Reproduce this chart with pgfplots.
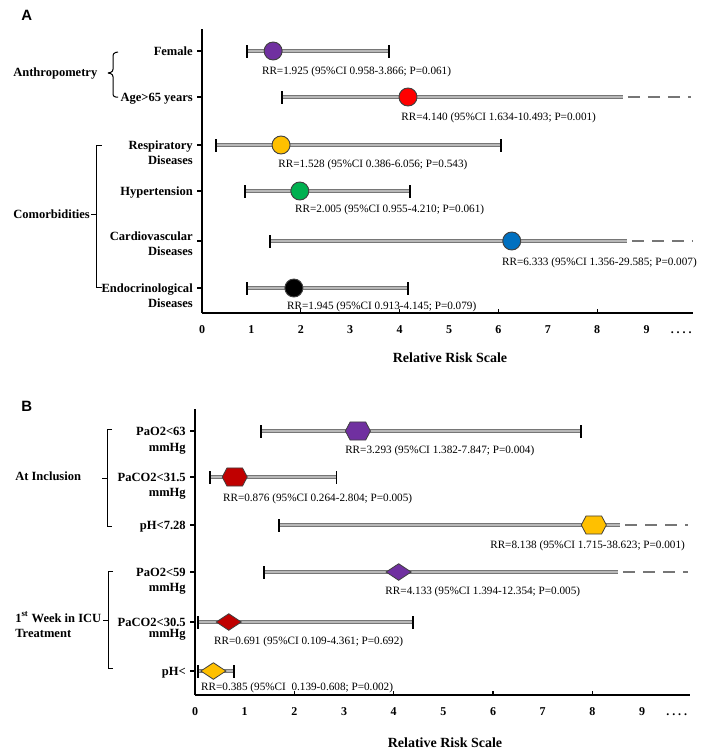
\documentclass[border=0pt]{standalone}
\usepackage{fontspec}
\setmainfont{Liberation Serif}
\newfontfamily\arialfont{Liberation Sans}
\usepackage{pgfplots}
\pgfplotsset{compat=1.18}

\definecolor{cpurple}{HTML}{7030A0}
\definecolor{cred}{HTML}{FF0000}
\definecolor{cdred}{HTML}{C00000}
\definecolor{cyellow}{HTML}{FFC000}
\definecolor{cgreen}{HTML}{00B050}
\definecolor{cblue}{HTML}{0070C0}
\definecolor{ciout}{HTML}{767676}
\definecolor{ciin}{HTML}{B8B8B8}
\definecolor{mkedge}{HTML}{404040}

\newcommand{\catfont}{\fontsize{9.4}{11}\selectfont\bfseries}
\newcommand{\rrfont}{\fontsize{8.4}{10}\selectfont}
\newcommand{\tickfont}{\fontsize{9}{11}\selectfont\bfseries}
\newcommand{\xlabfont}{\fontsize{10.5}{12}\selectfont\bfseries}

\pgfdeclareplotmark{hex}{%
  \pgfpathmoveto{\pgfqpoint{-\pgfplotmarksize}{0pt}}%
  \pgfpathlineto{\pgfqpoint{-0.62\pgfplotmarksize}{0.72\pgfplotmarksize}}%
  \pgfpathlineto{\pgfqpoint{0.62\pgfplotmarksize}{0.72\pgfplotmarksize}}%
  \pgfpathlineto{\pgfqpoint{\pgfplotmarksize}{0pt}}%
  \pgfpathlineto{\pgfqpoint{0.62\pgfplotmarksize}{-0.72\pgfplotmarksize}}%
  \pgfpathlineto{\pgfqpoint{-0.62\pgfplotmarksize}{-0.72\pgfplotmarksize}}%
  \pgfpathclose
  \pgfusepathqfillstroke}
\pgfdeclareplotmark{dia}{%
  \pgfpathmoveto{\pgfqpoint{-\pgfplotmarksize}{0pt}}%
  \pgfpathlineto{\pgfqpoint{0pt}{0.66\pgfplotmarksize}}%
  \pgfpathlineto{\pgfqpoint{\pgfplotmarksize}{0pt}}%
  \pgfpathlineto{\pgfqpoint{0pt}{-0.66\pgfplotmarksize}}%
  \pgfpathclose
  \pgfusepathqfillstroke}

\pgfplotsset{
  forest/.style={
    clip=false,
    scale only axis,
    y=0.75pt,
    axis x line=bottom, axis y line=left,
    axis line style={-, line width=1.3pt, black},
    tick align=outside,
    major tick length=3.5pt,
    y tick style={line width=0.9pt, black},
    x tick style={draw=none},
    xtick={0,1,2,3,4,5,6,7,8,9,9.7},
    xticklabels={0,1,2,3,4,5,6,7,8,9,{.\hspace{2.2pt}.\hspace{2.2pt}.\hspace{2.2pt}.}},
    xticklabel style={font=\tickfont, anchor=base, inner sep=0pt, yshift=-12pt},
    yticklabels={,,,,,},
    /pgf/number format/assume math mode=true,
  },
  ci/.style={draw=ciout, double=ciin, double distance=0.9pt, line width=1pt},
  cap/.style={black, line width=1.3pt},
  ext/.style={draw=ciout, line width=2.2pt, dash pattern=on 9pt off 6pt},
  circ/.style={only marks, mark=*, mark size=6.75pt, mark options={draw=mkedge, line width=0.7pt, fill=#1}},
  hexm/.style={only marks, mark=hex, mark size=9.4pt, mark options={draw=mkedge, line width=0.6pt, fill=#1}},
  diam/.style={only marks, mark=dia, mark size=9.4pt, mark options={draw=mkedge, line width=0.6pt, fill=#1}},
}
\tikzset{
  cat/.style={font=\catfont, anchor=base east, inner sep=0pt, xshift=-6.75pt},
  rr/.style={font=\rrfont, anchor=base west, inner sep=0pt},
}

\begin{document}
\begin{tikzpicture}
\path[use as bounding box] (0,0) rectangle (531pt,-564.75pt);

% ---------------- Panel A ----------------
\begin{axis}[forest, at={(151.5pt,-234.75pt)}, anchor=south west,
  x=37.05pt, xmin=0, xmax=9.94, ymin=-313, ymax=-29,
  ytick={-51,-97,-145,-191,-241,-288}]
% Female
\addplot[ci] coordinates {(0.91,-51) (3.79,-51)};
\addplot[cap] coordinates {(0.91,-57.5) (0.91,-44.5)};
\addplot[cap] coordinates {(3.79,-57.5) (3.79,-44.5)};
% Age>65
\addplot[ci] coordinates {(1.62,-97) (8.52,-97)};
\addplot[ext] coordinates {(8.62,-97) (9.90,-97)};
\addplot[cap] coordinates {(1.62,-103.5) (1.62,-90.5)};
% Respiratory
\addplot[ci] coordinates {(0.28,-145) (6.05,-145)};
\addplot[cap] coordinates {(0.28,-151.5) (0.28,-138.5)};
\addplot[cap] coordinates {(6.05,-151.5) (6.05,-138.5)};
% Hypertension
\addplot[ci] coordinates {(0.87,-191) (4.21,-191)};
\addplot[cap] coordinates {(0.87,-197.5) (0.87,-184.5)};
\addplot[cap] coordinates {(4.21,-197.5) (4.21,-184.5)};
% Cardiovascular
\addplot[ci] coordinates {(1.38,-241) (8.60,-241)};
\addplot[ext] coordinates {(8.70,-241) (9.92,-241)};
\addplot[cap] coordinates {(1.38,-247.5) (1.38,-234.5)};
% Endocrinological
\addplot[ci] coordinates {(0.91,-288) (4.17,-288)};
\addplot[cap] coordinates {(0.91,-294.5) (0.91,-281.5)};
\addplot[cap] coordinates {(4.17,-294.5) (4.17,-281.5)};
% points
\addplot[circ=cpurple] coordinates {(1.44,-51)};
\addplot[circ=cred] coordinates {(4.17,-97)};
\addplot[circ=cyellow] coordinates {(1.60,-145)};
\addplot[circ=cgreen] coordinates {(1.98,-191)};
\addplot[circ=cblue] coordinates {(6.27,-241)};
\addplot[circ=black] coordinates {(1.86,-288)};
% x ticks (even)
\pgfplotsinvokeforeach{2,4,6,8}{\draw[line width=0.9pt] (axis cs:#1,-313) -- (axis cs:#1,-308.5);}
% category labels
\node[cat] at (axis cs:0,-55) {Female};
\node[cat] at (axis cs:0,-101) {Age>65 years};
\node[cat] at (axis cs:0,-149) {Respiratory};
\node[cat] at (axis cs:0,-164) {Diseases};
\node[cat] at (axis cs:0,-195) {Hypertension};
\node[cat] at (axis cs:0,-240) {Cardiovascular};
\node[cat] at (axis cs:0,-255) {Diseases};
\node[cat] at (axis cs:0,-292) {Endocrinological};
\node[cat] at (axis cs:0,-307) {Diseases};
% RR labels
\node[rr] at (axis cs:1.21,-74) {RR=1.925 (95\%CI 0.958-3.866; P=0.061)};
\node[rr] at (axis cs:4.03,-120) {RR=4.140 (95\%CI 1.634-10.493; P=0.001)};
\node[rr] at (axis cs:1.54,-167) {RR=1.528 (95\%CI 0.386-6.056; P=0.543)};
\node[rr] at (axis cs:1.88,-212) {RR=2.005 (95\%CI 0.955-4.210; P=0.061)};
\node[rr] at (axis cs:6.07,-265) {RR=6.333 (95\%CI 1.356-29.585; P=0.007)};
\node[rr] at (axis cs:1.72,-309) {RR=1.945 (95\%CI 0.913-4.145; P=0.079)};
\end{axis}

% ---------------- Panel B ----------------
\begin{axis}[forest, at={(146.25pt,-521.25pt)}, anchor=south west,
  x=37.25pt, xmin=0, xmax=9.97, ymin=-695, ymax=-409,
  ytick={-431,-477,-525,-572,-622,-671}]
% PaO2<63
\addplot[ci] coordinates {(1.33,-431) (7.77,-431)};
\addplot[cap] coordinates {(1.33,-437.5) (1.33,-424.5)};
\addplot[cap] coordinates {(7.77,-437.5) (7.77,-424.5)};
% PaCO2<31.5
\addplot[ci] coordinates {(0.30,-477) (2.85,-477)};
\addplot[cap] coordinates {(0.30,-483.5) (0.30,-470.5)};
\addplot[cap] coordinates {(2.85,-483.5) (2.85,-470.5)};
% pH<7.28
\addplot[ci] coordinates {(1.69,-525) (8.56,-525)};
\addplot[ext] coordinates {(8.66,-525) (9.93,-525)};
\addplot[cap] coordinates {(1.69,-531.5) (1.69,-518.5)};
% PaO2<59
\addplot[ci] coordinates {(1.39,-572) (8.52,-572)};
\addplot[ext] coordinates {(8.62,-572) (9.93,-572)};
\addplot[cap] coordinates {(1.39,-578.5) (1.39,-565.5)};
% PaCO2<30.5
\addplot[ci] coordinates {(0.06,-622) (4.39,-622)};
\addplot[cap] coordinates {(0.06,-628.5) (0.06,-615.5)};
\addplot[cap] coordinates {(4.39,-628.5) (4.39,-615.5)};
% pH<
\addplot[ci] coordinates {(0.06,-671) (0.79,-671)};
\addplot[cap] coordinates {(0.06,-677.5) (0.06,-664.5)};
\addplot[cap] coordinates {(0.79,-677.5) (0.79,-664.5)};
% points
\addplot[hexm=cpurple] coordinates {(3.28,-431)};
\addplot[hexm=cdred] coordinates {(0.80,-477)};
\addplot[hexm=cyellow] coordinates {(8.03,-525)};
\addplot[diam=cpurple] coordinates {(4.10,-572)};
\addplot[diam=cdred] coordinates {(0.68,-622)};
\addplot[diam=cyellow] coordinates {(0.37,-671)};
\pgfplotsinvokeforeach{2,4,6,8}{\draw[line width=0.9pt] (axis cs:#1,-695) -- (axis cs:#1,-690.5);}
% category labels
\node[cat] at (axis cs:0,-435) {PaO2<63};
\node[cat] at (axis cs:0,-451) {mmHg};
\node[cat] at (axis cs:0,-481) {PaCO2<31.5};
\node[cat] at (axis cs:0,-496) {mmHg};
\node[cat] at (axis cs:0,-529) {pH<7.28};
\node[cat] at (axis cs:0,-576) {PaO2<59};
\node[cat] at (axis cs:0,-591) {mmHg};
\node[cat] at (axis cs:0,-626) {PaCO2<30.5};
\node[cat] at (axis cs:0,-637) {mmHg};
\node[cat] at (axis cs:0,-675) {pH<};
% RR labels
\node[rr] at (axis cs:3.02,-453) {RR=3.293 (95\%CI 1.382-7.847; P=0.004)};
\node[rr] at (axis cs:0.56,-501) {RR=0.876 (95\%CI 0.264-2.804; P=0.005)};
\node[rr] at (axis cs:5.94,-548) {RR=8.138 (95\%CI 1.715-38.623; P=0.001)};
\node[rr] at (axis cs:3.83,-594) {RR=4.133 (95\%CI 1.394-12.354; P=0.005)};
\node[rr] at (axis cs:0.38,-644) {RR=0.691 (95\%CI 0.109-4.361; P=0.692)};
\node[rr] at (axis cs:0.12,-690) {RR=0.385 (95\%CI\ \ 0.139-0.608; P=0.002)};
\end{axis}

% ---------------- annotations (pixel units) ----------------
\begin{scope}[x=0.75pt, y=-0.75pt]
\node[font=\arialfont\fontsize{11.2}{13}\selectfont\bfseries, anchor=base west, inner sep=0pt] at (21,21) {A};
\node[font=\arialfont\fontsize{11.2}{13}\selectfont\bfseries, anchor=base west, inner sep=0pt] at (21,411) {B};
\node[font=\xlabfont, anchor=base, inner sep=0pt] at (450,362) {Relative Risk Scale};
\node[font=\xlabfont, anchor=base, inner sep=0pt] at (445,747) {Relative Risk Scale};
% group labels
\node[font=\catfont, anchor=base west, inner sep=0pt] at (13,76) {Anthropometry};
\node[font=\catfont, anchor=base west, inner sep=0pt] at (13,218) {Comorbidities};
\node[font=\catfont, anchor=base west, inner sep=0pt] at (15,480) {At Inclusion};
\node[font=\catfont, anchor=base west, inner sep=0pt] at (15,622) {1\textsuperscript{st} Week in ICU};
\node[font=\catfont, anchor=base west, inner sep=0pt] at (15,637) {Treatment};
% brackets
\draw[line width=0.75pt, rounded corners=2pt] (118,52) -- (113,53) -- (113,72) -- (108,73);
\draw[line width=0.75pt, rounded corners=2pt] (108,73) -- (113,74) -- (113,97) -- (118,97);
\draw[line width=0.75pt] (101.5,145) -- (96,145) -- (96,287) -- (101.5,287);
\draw[line width=0.75pt] (91,214) -- (96,214);
\draw[line width=0.75pt] (112,429) -- (107,429) -- (107,526) -- (112,526);
\draw[line width=0.75pt] (102,478) -- (107,478);
\draw[line width=0.75pt] (113,571) -- (108,571) -- (108,668) -- (113,668);
\draw[line width=0.75pt] (103,620) -- (108,620);
\end{scope}
\end{tikzpicture}
\end{document}
